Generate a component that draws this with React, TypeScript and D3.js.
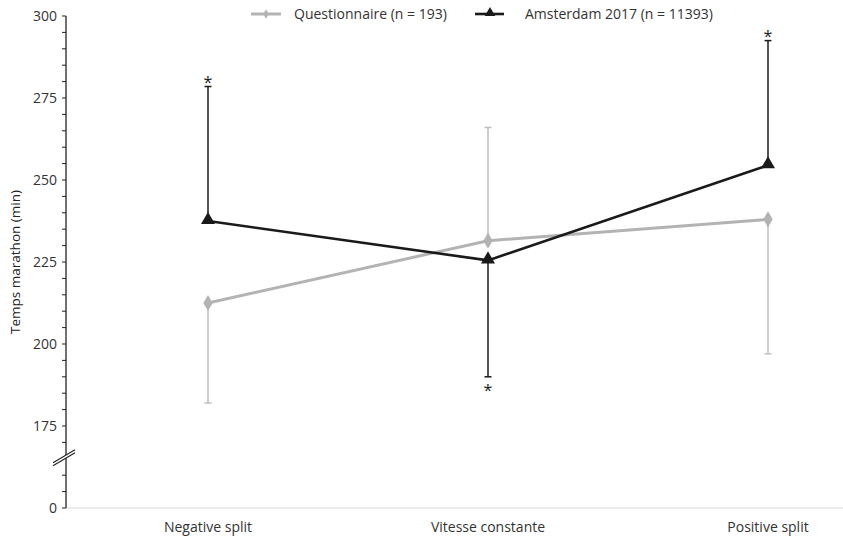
import React from 'react';
import * as d3 from 'd3';

const categories = ['Negative split', 'Vitesse constante', 'Positive split'];
const questMeans = [212.5, 231.5, 238];
const questErrEnd = [182, 266, 197];
const amsMeans = [237.5, 225.5, 254.5];
const amsErrEnd = [278.5, 190, 292.5];
const majorTicks = [175, 200, 225, 250, 275, 300];
const seriesNames = ['Questionnaire (n = 193)', 'Amsterdam 2017 (n = 11393)'];

const W = 843;
const H = 538;
const FONT = '"Open Sans", sans-serif';

export default function App() {
  // 0 is drawn at the position of 150 (broken axis)
  const y = d3.scaleLinear().domain([150, 300]).range([508, 16]);
  const x = d3.scaleBand().domain(categories).range([68, 908]);
  const cx = (c: string) => (x(c) as number) + x.bandwidth() / 2;

  const minor = d3.range(150, 301, 5).filter((v) => v !== 165);
  const line = d3.line<number>().x((_, i) => cx(categories[i])).y((v) => y(v));
  const tri = d3.symbol().type(d3.symbolTriangle).size(85)();
  const dia = d3.symbol().type(d3.symbolDiamond).size(75)();

  const gray = '#b3b3b3';
  const dark = '#1a1a1a';
  const axisX = 66;
  const breakY = y(165);

  return (
    <svg width={W} height={H} style={{ position: 'absolute', left: 0, top: 0 }}>
      <rect width={W} height={H} fill="white" />
      {/* baseline */}
      <line x1={axisX} x2={W} y1={y(150)} y2={y(150)} stroke="#d9d9d9" strokeWidth={1.2} />
      {/* y axis */}
      <line x1={axisX} x2={axisX} y1={y(300)} y2={y(150)} stroke="#222" strokeWidth={1.3} />
      {minor.map((v) => (
        <line key={v} x1={axisX - 4} x2={axisX} y1={y(v)} y2={y(v)} stroke="#222" strokeWidth={1} />
      ))}
      {majorTicks.map((v) => (
        <text key={v} x={57} y={y(v)} dy="0.35em" textAnchor="end" fontSize={14} fill="#333" fontFamily={FONT}>
          {v}
        </text>
      ))}
      <text x={57} y={y(150)} dy="0.35em" textAnchor="end" fontSize={14} fill="#333" fontFamily={FONT}>
        0
      </text>
      {/* axis break */}
      <polygon
        points={`${axisX - 13},${breakY + 7} ${axisX + 9},${breakY - 6} ${axisX + 9},${breakY - 9} ${axisX - 13},${breakY + 4}`}
        fill="white"
      />
      <line x1={axisX - 13} x2={axisX + 9} y1={breakY + 7} y2={breakY - 6} stroke="#222" strokeWidth={1.1} />
      <line x1={axisX - 13} x2={axisX + 9} y1={breakY + 4} y2={breakY - 9} stroke="#222" strokeWidth={1.1} />
      <text
        transform={`translate(20,${(y(300) + y(150)) / 2}) rotate(-90)`}
        textAnchor="middle"
        fontSize={13.5}
        fill="#222"
        fontFamily={FONT}
      >
        Temps marathon (min)
      </text>
      {/* x labels */}
      {categories.map((c) => (
        <text key={c} x={cx(c)} y={532} textAnchor="middle" fontSize={14} fill="#333" fontFamily={FONT}>
          {c}
        </text>
      ))}
      {/* error bars questionnaire */}
      {categories.map((c, i) => (
        <g key={'qe' + i} stroke="#bdbdbd" strokeWidth={1.5}>
          <line x1={cx(c)} x2={cx(c)} y1={y(questMeans[i])} y2={y(questErrEnd[i])} />
          <line x1={cx(c) - 3.5} x2={cx(c) + 3.5} y1={y(questErrEnd[i])} y2={y(questErrEnd[i])} />
        </g>
      ))}
      {/* error bars amsterdam */}
      {categories.map((c, i) => (
        <g key={'ae' + i}>
          <line x1={cx(c)} x2={cx(c)} y1={y(amsMeans[i])} y2={y(amsErrEnd[i])} stroke={dark} strokeWidth={1.5} />
          <line x1={cx(c) - 3.5} x2={cx(c) + 3.5} y1={y(amsErrEnd[i])} y2={y(amsErrEnd[i])} stroke={dark} strokeWidth={1.5} />
          <text
            x={cx(c)}
            y={amsErrEnd[i] > amsMeans[i] ? y(amsErrEnd[i]) + 1 : y(amsErrEnd[i]) + 19}
            textAnchor="middle"
            fontSize={16}
            fill={dark}
            fontFamily={FONT}
          >
            *
          </text>
        </g>
      ))}
      {/* lines */}
      <path d={line(questMeans) as string} fill="none" stroke={gray} strokeWidth={3} />
      {questMeans.map((v, i) => (
        <path key={'qd' + i} d={dia as string} transform={`translate(${cx(categories[i])},${y(v)})`} fill={gray} />
      ))}
      <path d={line(amsMeans) as string} fill="none" stroke={dark} strokeWidth={2.6} />
      {amsMeans.map((v, i) => (
        <path key={'at' + i} d={tri as string} transform={`translate(${cx(categories[i])},${y(v) - 1})`} fill={dark} />
      ))}
      {/* legend */}
      <g fontFamily={FONT} fontSize={14} fill="#333">
        <line x1={251} x2={281} y1={14} y2={14} stroke={gray} strokeWidth={3} />
        <path d={dia as string} transform="translate(266,14) scale(0.6)" fill={gray} />
        <text x={294} y={19}>{seriesNames[0]}</text>
        <line x1={475} x2={504} y1={14} y2={14} stroke={dark} strokeWidth={2.6} />
        <path d={tri as string} transform="translate(490,13) scale(0.75)" fill={dark} />
        <text x={525} y={19}>{seriesNames[1]}</text>
      </g>
    </svg>
  );
}
